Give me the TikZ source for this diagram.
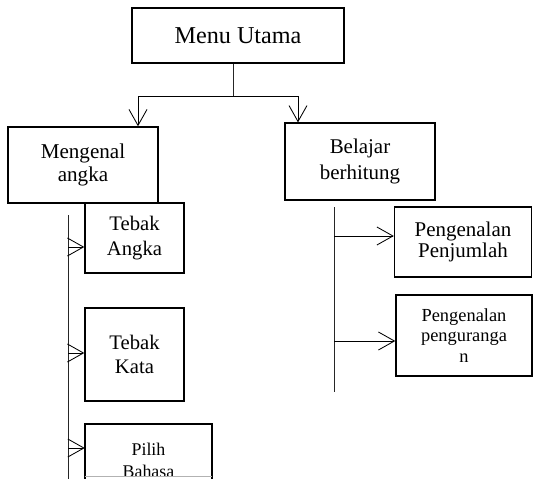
\documentclass[tikz,border=0pt]{standalone}
\usepackage{fontspec}
\setmainfont{Liberation Serif}
\usepackage{tikz}
\usetikzlibrary{arrows.meta,positioning}
\tikzset{
  menubox/.style={draw,line width=1pt,align=center,inner sep=0pt},
  fs/.style 2 args={font=\fontsize{#1}{#2}\selectfont}
}

\begin{document}
\begin{tikzpicture}[
  link/.style={line width=0.7pt,black!85},
  arrow/.style={-{Straight Barb[length=0.4cm,width=0.45cm]},line width=0.6pt}
]
  \clip (0,0) rectangle (13.325,-11.975);
  \node[menubox,fs={17.2}{20},minimum width=5.3cm,minimum height=1.375cm] (menu) at (5.95,-0.89) {Menu Utama};
  \node[menubox,fs={15}{16.1},minimum width=3.75cm,minimum height=1.9cm] (mengenal) at (2.075,-4.125) {Mengenal\\angka};
  \node[menubox,fs={14.9}{18.5},minimum width=3.75cm,minimum height=1.925cm] (belajar) at (9.0,-4.04) {Belajar\\berhitung};
  \node[menubox,fs={14.7}{17.8},minimum width=2.475cm,minimum height=1.75cm] (tebakangka) at (3.3625,-5.95) {Tebak\\Angka};
  \node[menubox,fs={14.7}{17.1},minimum width=2.475cm,minimum height=2.325cm] (tebakkata) at (3.3625,-8.8625) {Tebak\\Kata};
  \node[menubox,fs={14.9}{14.9},minimum width=3.425cm,minimum height=1.75cm] (penjumlah) at (11.575,-6.05) {Pengenalan\\Penjumlah};
  \node[menubox,fs={13.1}{14.6},minimum width=3.4cm,minimum height=2.025cm] (pengurangan) at (11.6,-8.3875) {Pengenalan\\penguranga\\n};

  % Pilih Bahasa runs off the page, text cut at the box bottom
  \node[minimum width=3.175cm,minimum height=1.3cm] (pilih) at (3.7125,-11.25) {};
  \begin{scope}
    \clip (pilih.north west) rectangle (pilih.south east);
    \node[align=center,inner sep=0pt,fs={12.7}{15.6}] (pilihtext) at ([yshift=-0.25cm]pilih.center) {Pilih\\Bahasa};
  \end{scope}
  \draw[line width=1.2pt] ([yshift=-0.2cm]pilih.south west) -- (pilih.north west) -- (pilih.north east) -- ([yshift=-0.2cm]pilih.south east);
  \draw[gray!60,line width=0.4pt] (pilih.south west) -- (pilih.south east);

  % branches from the main menu
  \coordinate (split) at (5.825,-2.4);
  \coordinate (leftdrop) at (3.45,-2.4);
  \coordinate (rightdrop) at (7.45,-2.4);
  \draw[link] (menu.south -| split) -- (split);
  \draw[arrow] (split) -| (leftdrop |- mengenal.north);
  \draw[arrow] (split) -| (rightdrop |- belajar.north);

  % left column
  \coordinate (lefttop) at (1.7,-5.375);
  \coordinate (leftbot) at (1.7,-12.1);
  \coordinate (la) at (1.7,-6.175);
  \coordinate (lb) at (1.7,-8.825);
  \coordinate (lc) at (1.7,-11.2);
  \draw[link] (lefttop) -- (leftbot);
  \draw[arrow] (la) -- (la -| tebakangka.west);
  \draw[arrow] (lb) -- (lb -| tebakkata.west);
  \draw[arrow] (lc) -- (lc -| pilih.west);

  % right column
  \coordinate (righttop) at (8.35,-5.175);
  \coordinate (rightbot) at (8.35,-9.8);
  \coordinate (ra) at (8.35,-5.9);
  \coordinate (rb) at (8.35,-8.525);
  \draw[link] (righttop) -- (rightbot);
  \draw[arrow] (ra) -- (ra -| penjumlah.west);
  \draw[arrow] (rb) -- (rb -| pengurangan.west);
\end{tikzpicture}
\end{document}
